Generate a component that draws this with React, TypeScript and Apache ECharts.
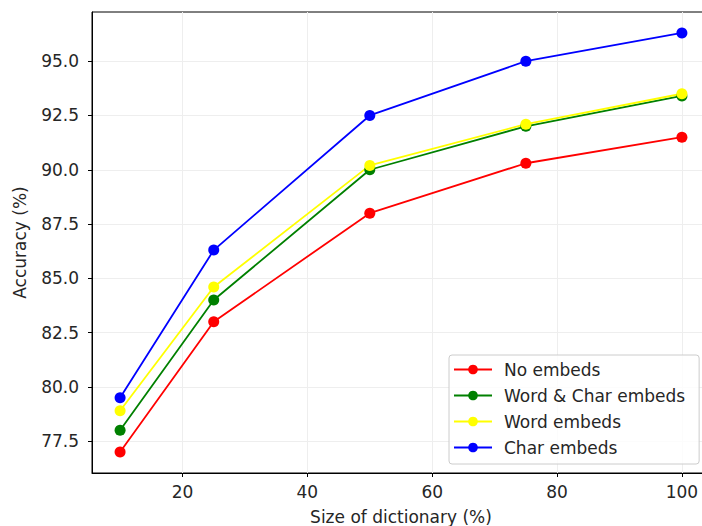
import React, { useEffect, useRef } from "react";
import * as echarts from "echarts";

const sizes = [10, 25, 50, 75, 100];
const noEmbeds = [77.0, 83.0, 88.0, 90.3, 91.5];
const wordCharEmbeds = [78.0, 84.0, 90.0, 92.0, 93.4];
const wordEmbeds = [78.9, 84.6, 90.2, 92.1, 93.5];
const charEmbeds = [79.5, 86.3, 92.5, 95.0, 96.3];
const xTicks = [20, 40, 60, 80, 100];
const yTicks = [77.5, 80.0, 82.5, 85.0, 87.5, 90.0, 92.5, 95.0];

const seriesDefs = [
  { name: "No embeds", values: noEmbeds, color: "#ff0000" },
  { name: "Word & Char embeds", values: wordCharEmbeds, color: "#008000" },
  { name: "Word embeds", values: wordEmbeds, color: "#ffff00" },
  { name: "Char embeds", values: charEmbeds, color: "#0000ff" },
];

const FONT = "DejaVu Sans";
const FS = 17;
const TXT = "#262626";

export default function App() {
  const ref = useRef<HTMLDivElement>(null);
  useEffect(() => {
    if (!ref.current) return;
    const chart = echarts.init(ref.current, undefined, { renderer: "svg" });
    chart.setOption({
      animation: false,
      backgroundColor: "#ffffff",
      grid: {
        left: 92,
        right: 10,
        top: 12,
        bottom: 53,
        containLabel: false,
        outerBoundsMode: "none",
        show: true,
        borderColor: "#000",
        borderWidth: 1,
      },
      xAxis: {
        type: "value",
        min: 5.5,
        max: 104.5,
        name: "Size of dictionary (%)",
        nameLocation: "middle",
        nameGap: 35,
        nameTextStyle: { fontFamily: FONT, fontSize: FS, color: TXT },
        axisLine: { show: true, lineStyle: { color: "#000", width: 1 } },
        axisTick: { show: true, inside: false, length: 4, lineStyle: { color: "#000" }, customValues: xTicks },
        axisLabel: {
          customValues: xTicks,
          fontFamily: FONT,
          fontSize: FS,
          color: TXT,
          margin: 10,
        },
        splitLine: { show: true, lineStyle: { color: "#eeeeee", width: 1 } },
      },
      yAxis: {
        type: "value",
        min: 76.035,
        max: 97.265,
        name: "Accuracy (%)",
        nameLocation: "middle",
        nameGap: 64,
        nameTextStyle: { fontFamily: FONT, fontSize: FS, color: TXT },
        axisLine: { show: true, lineStyle: { color: "#000", width: 1 } },
        axisTick: { show: true, inside: false, length: 4, lineStyle: { color: "#000" }, customValues: yTicks },
        axisLabel: {
          customValues: yTicks,
          formatter: (v: number) => v.toFixed(1),
          fontFamily: FONT,
          fontSize: FS,
          color: TXT,
          margin: 13,
        },
        splitLine: { show: true, lineStyle: { color: "#eeeeee", width: 1 } },
      },
      legend: {
        orient: "vertical",
        left: 449,
        top: 355,
        padding: [6, 14, 8, 4],
        itemWidth: 38,
        itemHeight: 12,
        itemGap: 9,
        borderColor: "#cccccc",
        borderWidth: 1,
        borderRadius: 3,
        backgroundColor: "rgba(255,255,255,0.8)",
        textStyle: { fontFamily: FONT, fontSize: FS, color: TXT, lineHeight: 17, padding: [0, 0, 0, 7] },
        data: seriesDefs.map((s) => s.name),
      },
      series: seriesDefs.map((s) => ({
        name: s.name,
        type: "line",
        data: sizes.map((x, i) => [x, s.values[i]]),
        symbol: "circle",
        symbolSize: 11,
        color: s.color,
        lineStyle: { color: s.color, width: 1.8 },
        itemStyle: { color: s.color },
      })),
    });
    return () => chart.dispose();
  }, []);
  return (
    <div style={{ position: "fixed", left: 0, top: 0, width: 702, height: 526, overflow: "hidden" }}>
      <div ref={ref} style={{ width: 720, height: 526 }} />
    </div>
  );
}
